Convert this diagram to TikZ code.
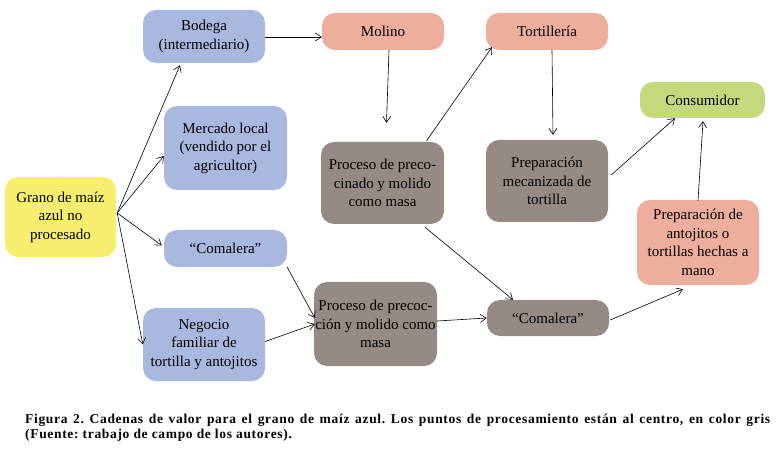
\documentclass[tikz,border=0pt]{standalone}
\usepackage{fontspec}
\setmainfont{Liberation Serif}
\newfontfamily\capfont{Liberation Serif Bold}[LetterSpace=5.0]
\usetikzlibrary{arrows.meta,calc}
\definecolor{cyellow}{HTML}{F7EE70}
\definecolor{cblue}{HTML}{A9B8DE}
\definecolor{csalmon}{HTML}{EEAE9C}
\definecolor{cgrey}{HTML}{968A85}
\definecolor{cgreen}{HTML}{C4D97B}
\begin{document}
\begin{tikzpicture}[x=1pt,y=-1pt,
  box/.style={rounded corners=13pt, inner sep=0pt, align=center,
    font=\fontsize{15}{18.5}\selectfont, text=black},
  yel/.style={box, fill=cyellow},
  blu/.style={box, fill=cblue},
  sal/.style={box, fill=csalmon},
  gry/.style={box, fill=cgrey},
  grn/.style={box, fill=cgreen},
  capstyle/.style={anchor=base west, inner sep=0pt, font=\frenchspacing\capfont\fontsize{13.5}{16}\selectfont},
  arr/.style={-{Straight Barb[length=6pt,width=8pt]}, line width=0.6pt, black}]
\useasboundingbox (0,0) rectangle (779,454);
\node[yel, minimum width=111pt, minimum height=80pt] (grano) at (60.5,217) {Grano de maíz\\azul no\\procesado};
\node[blu, minimum width=122pt, minimum height=53pt] (bodega) at (204,36.5) {Bodega\\(intermediario)};
\node[blu, minimum width=123pt, minimum height=84pt] (mercado) at (225.5,148) {Mercado local\\(vendido por el\\agricultor)};
\node[blu, minimum width=123pt, minimum height=37pt] (comb) at (225.5,248.5) {“Comalera”};
\node[blu, minimum width=122pt, minimum height=73pt] (negocio) at (204,344.5) {Negocio\\familiar de\\tortilla y antojitos};
\node[sal, minimum width=122pt, minimum height=37pt] (molino) at (383,31.5) {Molino};
\node[gry, minimum width=123pt, minimum height=82pt] (proc1) at (382.5,183) {Proceso de preco-\\cinado y molido\\como masa};
\node[gry, minimum width=123pt, minimum height=84pt] (proc2) at (375.5,324) {Proceso de precoc-\\ción y molido como\\masa};
\node[sal, minimum width=122pt, minimum height=37pt] (tort) at (547,31.5) {Tortillería};
\node[gry, minimum width=122pt, minimum height=82pt] (prepmec) at (547,181) {Preparación\\mecanizada de\\tortilla};
\node[gry, minimum width=122pt, minimum height=36pt] (comg) at (548,318) {“Comalera”};
\node[grn, minimum width=125pt, minimum height=36pt] (cons) at (702.5,100) {Consumidor};
\node[sal, minimum width=122pt, minimum height=85pt] (prepant) at (698,242.5) {Preparación de\\antojitos o\\tortillas hechas a\\mano};
% connectors
\draw[arr] ($(grano.east)+(1,-4)$) -- ($(bodega.south)+(-24,2)$);
\draw[arr] ($(grano.east)+(1,-4)$) -- ($(mercado.west)+(0,8)$);
\draw[arr] ($(grano.east)+(1,-4)$) -- ($(comb.west)+(-2,-3)$);
\draw[arr] ($(grano.east)+(1,-4)$) -- (negocio.west);
\draw[arr] ($(bodega.east)+(0,0.5)$) -- ($(molino.west)+(0,5.5)$);
\draw[arr] ($(molino.south)+(6,0)$) -- ($(proc1.north)+(4,-19)$);
\draw[arr] ($(proc1.north)+(44,-1)$) -- ($(tort.south)+(-55,-3)$);
\draw[arr] ($(tort.south)+(5,0)$) -- ($(prepmec.north)+(6,-5)$);
\draw[arr] ($(prepmec.east)+(3,-6)$) -- ($(cons.south)+(-27.5,0)$);
\draw[arr] ($(prepant.north)+(0,1)$) -- ($(cons.south)+(0.5,3)$);
\draw[arr] ($(proc1.south)+(42.5,3)$) -- ($(comg.north)+(-35,0)$);
\draw[arr] (comb.south east) -- ($(proc2.west)+(1,-6)$);
\draw[arr] ($(negocio.east)+(0,-3)$) -- ($(proc2.west)+(1,0)$);
\draw[arr] ($(proc2.east)+(0,-3)$) -- (comg.west);
\draw[arr] ($(comg.east)+(1,2)$) -- ($(prepant.south)+(-15,4)$);
% caption
\node[capstyle] (cap1) at (25,423) {\makebox[745pt][s]{Figura 2. Cadenas de valor para el grano de maíz azul. Los puntos de procesamiento están al centro, en color gris}};
\node[capstyle] (cap2) at (25,438) {(Fuente: trabajo de campo de los autores).};
\end{tikzpicture}
\end{document}
